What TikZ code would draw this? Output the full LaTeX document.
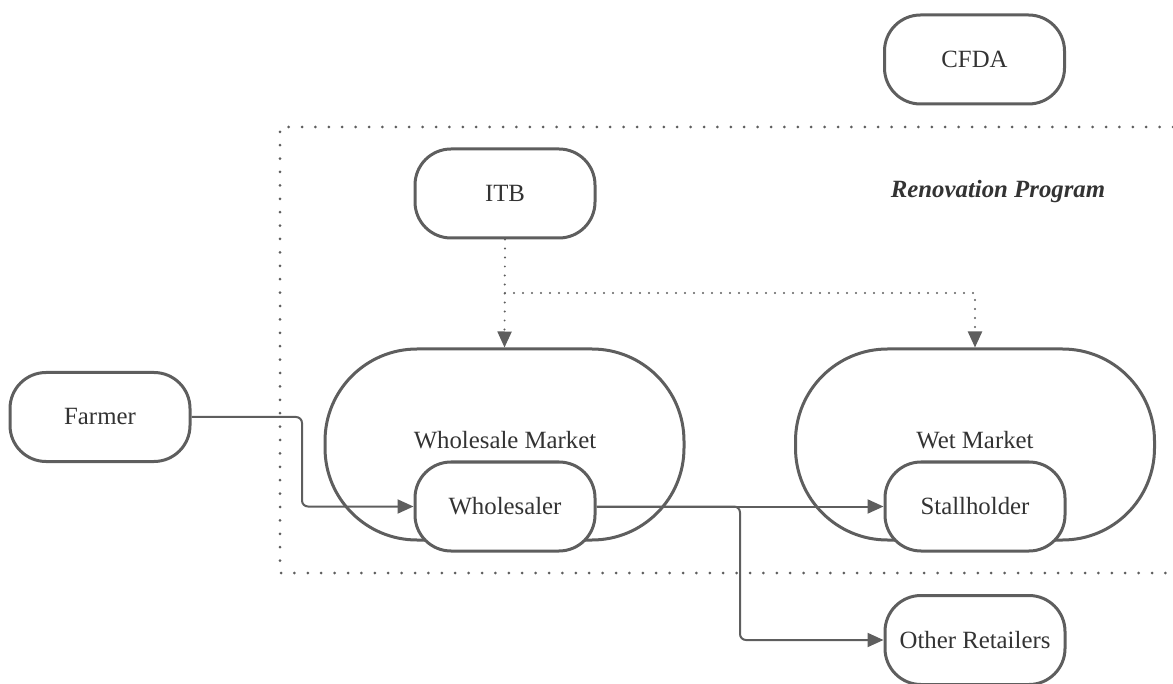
\documentclass[tikz,border=0pt]{standalone}
\usepackage{fontspec}
\setmainfont{Liberation Serif}
\usetikzlibrary{arrows.meta}
\definecolor{ln}{HTML}{5E5E5E}
\definecolor{tx}{HTML}{333333}
\begin{document}
\begin{tikzpicture}[x=1pt,y=-1pt,
  pill/.style={draw=ln,line width=3pt,rounded corners=36pt,minimum width=180pt,minimum height=89pt,inner sep=0pt,text=tx,font=\fontsize{24.8}{28}\selectfont},
  bigpill/.style={draw=ln,line width=3pt,rounded corners=92pt,minimum width=359pt,minimum height=191pt,inner sep=0pt},
  lbl/.style={text=tx,font=\fontsize{24.8}{28}\selectfont,inner sep=0pt},
  conn/.style={draw=ln,line width=2pt,rounded corners=6pt,-{Triangle[length=16pt,width=14pt]}},
  dotconn/.style={draw=ln,line width=2.2pt,line cap=round,dash pattern=on 0pt off 9pt,-{Triangle[length=16pt,width=14pt]}},
  boxdot/.style={draw=ln,line width=3pt,line cap=round,dash pattern=on 0pt off 13.4pt}]
\useasboundingbox (0,0) rectangle (1173,684);
% dotted program frame
\draw[boxdot] (1173,127) -- (280,127) -- (280,573) -- (1173,573);
\node[lbl,font=\fontsize{24.8}{28}\selectfont\bfseries\itshape] (rp) at (998,192) {Renovation Program};
% big markets
\node[bigpill] (wm) at (504.5,444.5) {};
\node[bigpill] (wet) at (975,444.5) {};
\node[lbl] (wml) at (505,440) {Wholesale Market};
\node[lbl] (wetl) at (975,440) {Wet Market};
% pills
\node[pill] (cfda) at (974.5,59.5) {CFDA};
\node[pill] (itb) at (505,193.5) {ITB};
\node[pill] (farmer) at (100,417) {Farmer};
\node[pill,fill=white] (ws) at (505,506.5) {Wholesaler};
\node[pill,fill=white] (sh) at (975,506.5) {Stallholder};
\node[pill] (other) at (975,640) {Other Retailers};
% connectors
\coordinate (j1) at (302,417);
\coordinate (j2) at (302,506.5);
\draw[conn] (farmer.east) -- (j1) -- (j2) -- (ws.west);
\draw[conn,rounded corners=0pt] (ws.east) -- (sh.west);
\coordinate (b1) at (740,506.5);
\coordinate (b2) at (740,640);
\draw[conn] (ws.east) -- (b1) -- (b2) -- (other.west);
\coordinate (d1) at (505,293);
\coordinate (d2) at (975,293);
\draw[dotconn] (itb.south) -- (wm.north);
\draw[dotconn] (d1) -- (d2) -- (wet.north);
\end{tikzpicture}
\end{document}
